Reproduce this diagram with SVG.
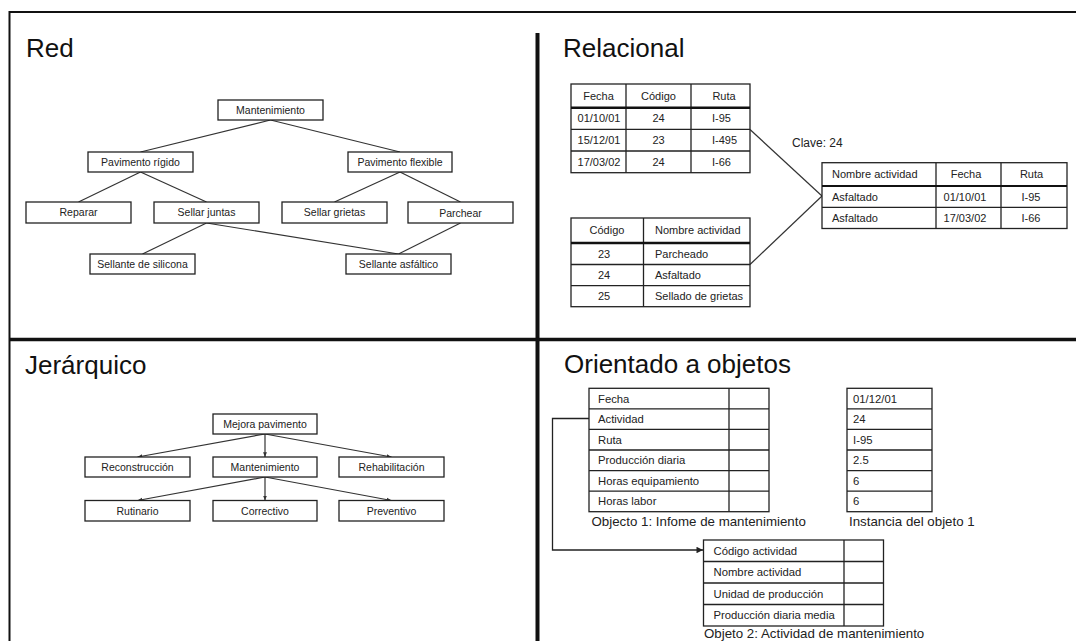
<svg xmlns="http://www.w3.org/2000/svg" width="1076" height="641" viewBox="0 0 1076 641">
<style>
  .bg{fill:#fff}
  .frame{stroke:#111;stroke-width:2;fill:none}
  .div{stroke:#111;stroke-width:4;fill:none}
  .box{fill:#fff;stroke:#222;stroke-width:1.3}
  .grid{stroke:#222;stroke-width:1.3;fill:none}
  .hdr{stroke:#111;stroke-width:2.4;fill:none}
  .edge{stroke:#333;stroke-width:1.2;fill:none}
  text{font-family:"Liberation Sans",Arial,sans-serif;fill:#222}
  .title{font-size:26px;fill:#111}
  .n{font-size:10.5px;text-anchor:middle}
  .tt{font-size:11px}
  .c{text-anchor:middle}
  .ot{font-size:11.3px}
  .cap{font-size:13.3px}
</style>
<defs>
  <marker id="ah" viewBox="0 0 10 10" refX="10" refY="5" markerWidth="4" markerHeight="4" orient="auto" markerUnits="strokeWidth">
    <path d="M0,1 L10,5 L0,9 z" fill="#333"/>
  </marker>
  <marker id="ah2" viewBox="0 0 10 10" refX="10" refY="5" markerWidth="6" markerHeight="5" orient="auto" markerUnits="strokeWidth">
    <path d="M0,0 L10,5 L0,10 z" fill="#222"/>
  </marker>
</defs>
<rect class="bg" x="0" y="0" width="1076" height="641"/>

<!-- frame and dividers -->
<g id="frame">
  <path class="frame" d="M9.5,641 V12 H1076"/>
  <path class="div" d="M537.5,33 V641"/>
  <path class="div" d="M9,339.5 H1076" style="stroke-width:3.5"/>
</g>

<!-- titles -->
<g id="titles">
  <text class="title" x="26" y="57">Red</text>
  <text class="title" x="563" y="57">Relacional</text>
  <text class="title" x="25" y="374">Jerárquico</text>
  <text class="title" x="564" y="373">Orientado a objetos</text>
</g>

<!-- Red connectors -->
<g id="red-connectors">
  <line class="edge" x1="270.5" y1="120" x2="140.5" y2="152"/>
  <line class="edge" x1="270.5" y1="120" x2="400" y2="152"/>
  <line class="edge" x1="140.5" y1="172" x2="78.5" y2="202"/>
  <line class="edge" x1="140.5" y1="172" x2="206.5" y2="202"/>
  <line class="edge" x1="400" y1="172" x2="334.5" y2="202"/>
  <line class="edge" x1="400" y1="172" x2="460.5" y2="202"/>
  <line class="edge" x1="206.5" y1="223" x2="142.5" y2="254"/>
  <line class="edge" x1="206.5" y1="223" x2="398.5" y2="254"/>
  <line class="edge" x1="460.5" y1="223" x2="398.5" y2="254"/>
</g>
<g id="red-mantenimiento"><rect class="box" x="218" y="100" width="105" height="20"/><text class="n" x="270.5" y="113.8">Mantenimiento</text></g>
<g id="red-pav-rigido"><rect class="box" x="88" y="152" width="105" height="20"/><text class="n" x="140.5" y="165.8">Pavimento rígido</text></g>
<g id="red-pav-flexible"><rect class="box" x="348" y="152" width="104" height="20"/><text class="n" x="400" y="165.8">Pavimento flexible</text></g>
<g id="red-reparar"><rect class="box" x="26" y="202" width="105" height="21"/><text class="n" x="78.5" y="216.3">Reparar</text></g>
<g id="red-sellar-juntas"><rect class="box" x="154" y="202" width="105" height="21"/><text class="n" x="206.5" y="216.3">Sellar juntas</text></g>
<g id="red-sellar-grietas"><rect class="box" x="282" y="202" width="105" height="21"/><text class="n" x="334.5" y="216.3">Sellar grietas</text></g>
<g id="red-parchear"><rect class="box" x="408" y="202" width="105" height="21"/><text class="n" x="460.5" y="216.8">Parchear</text></g>
<g id="red-sellante-silicona"><rect class="box" x="90" y="254" width="105" height="20"/><text class="n" x="142.5" y="267.8">Sellante de silicona</text></g>
<g id="red-sellante-asfaltico"><rect class="box" x="346" y="254" width="105" height="20"/><text class="n" x="398.5" y="267.8">Sellante asfáltico</text></g>

<!-- Relacional -->
<g id="rel-connectors">
  <line class="edge" x1="750" y1="129.5" x2="822" y2="196"/>
  <line class="edge" x1="750" y1="264.5" x2="822" y2="196"/>
</g>
<g id="rel-table1">
  <rect class="box" x="571" y="84" width="179" height="88.7"/>
  <path class="grid" d="M626,84 V172.7 M691,84 V172.7 M571,129.3 H750 M571,151 H750"/>
  <path class="hdr" d="M571,107.7 H750"/>
  <g class="tt">
    <text class="c" x="598.5" y="99.8">Fecha</text>
    <text class="c" x="658.5" y="99.8">Código</text>
    <text class="c" x="724" y="99.8">Ruta</text>
    <text class="c" x="599" y="122.3">01/10/01</text>
    <text class="c" x="658.5" y="122.3">24</text>
    <text x="712" y="122.3">I-95</text>
    <text class="c" x="599" y="144">15/12/01</text>
    <text class="c" x="658.5" y="144">23</text>
    <text x="712" y="144">I-495</text>
    <text class="c" x="599" y="165.7">17/03/02</text>
    <text class="c" x="658.5" y="165.7">24</text>
    <text x="712" y="165.7">I-66</text>
  </g>
</g>
<g id="rel-table2">
  <rect class="box" x="571" y="218" width="179" height="88.7"/>
  <path class="grid" d="M643.5,218 V306.7 M571,264.5 H750 M571,285.7 H750"/>
  <path class="hdr" d="M571,243 H750"/>
  <g class="tt">
    <text class="c" x="607" y="234.3">Código</text>
    <text x="655" y="234.3">Nombre actividad</text>
    <text class="c" x="604" y="257.6">23</text>
    <text x="655" y="257.6">Parcheado</text>
    <text class="c" x="604" y="278.9">24</text>
    <text x="655" y="278.9">Asfaltado</text>
    <text class="c" x="604" y="300">25</text>
    <text x="655" y="300">Sellado de grietas</text>
  </g>
</g>
<g id="rel-clave"><text class="tt" x="792" y="146.7" style="font-size:12px">Clave: 24</text></g>
<g id="rel-table3">
  <rect class="box" x="822" y="162.7" width="245" height="65.8"/>
  <path class="grid" d="M936,162.7 V228.5 M1001,162.7 V228.5 M822,207.3 H1067"/>
  <path class="hdr" d="M822,186 H1067" style="stroke-width:1.8"/>
  <g class="tt">
    <text x="832" y="178.3">Nombre actividad</text>
    <text class="c" x="966" y="178.3">Fecha</text>
    <text class="c" x="1031.5" y="178.3">Ruta</text>
    <text x="832" y="200.5">Asfaltado</text>
    <text class="c" x="965" y="200.5">01/10/01</text>
    <text class="c" x="1031" y="200.5">I-95</text>
    <text x="832" y="221.8">Asfaltado</text>
    <text class="c" x="965" y="221.8">17/03/02</text>
    <text class="c" x="1031" y="221.8">I-66</text>
  </g>
</g>

<!-- Jerárquico -->
<g id="jer-connectors">
  <line class="edge" x1="265" y1="434" x2="137.5" y2="457" marker-end="url(#ah)"/>
  <line class="edge" x1="265" y1="434" x2="265" y2="457" marker-end="url(#ah)"/>
  <line class="edge" x1="265" y1="434" x2="391.5" y2="457" marker-end="url(#ah)"/>
  <line class="edge" x1="265" y1="477" x2="137.5" y2="500.5" marker-end="url(#ah)"/>
  <line class="edge" x1="265" y1="477" x2="265" y2="500.5" marker-end="url(#ah)"/>
  <line class="edge" x1="265" y1="477" x2="391.5" y2="500.5" marker-end="url(#ah)"/>
</g>
<g id="jer-mejora"><rect class="box" x="213" y="414" width="104" height="20"/><text class="n" x="265" y="427.5">Mejora pavimento</text></g>
<g id="jer-reconstruccion"><rect class="box" x="85" y="457" width="105" height="20"/><text class="n" x="137.5" y="471">Reconstrucción</text></g>
<g id="jer-mantenimiento"><rect class="box" x="213" y="457" width="104" height="20"/><text class="n" x="265" y="470.5">Mantenimiento</text></g>
<g id="jer-rehabilitacion"><rect class="box" x="339" y="457" width="105" height="20"/><text class="n" x="391.5" y="471">Rehabilitación</text></g>
<g id="jer-rutinario"><rect class="box" x="85" y="500.5" width="105" height="20.5"/><text class="n" x="137.5" y="514.5">Rutinario</text></g>
<g id="jer-correctivo"><rect class="box" x="213" y="500.5" width="104" height="20.5"/><text class="n" x="265" y="514.5">Correctivo</text></g>
<g id="jer-preventivo"><rect class="box" x="339" y="500.5" width="105" height="20.5"/><text class="n" x="391.5" y="514.5">Preventivo</text></g>

<!-- Orientado a objetos -->
<g id="oo-connectors">
  <path class="edge" d="M589,418.5 H552.5 V550 H703" style="stroke:#222;stroke-width:1.3" marker-end="url(#ah2)"/>
</g>
<g id="oo-objeto1">
  <rect class="box" x="589" y="388.3" width="180" height="123.4"/>
  <path class="grid" d="M729,388.3 V511.7 M589,408.9 H769 M589,429.4 H769 M589,450 H769 M589,470.6 H769 M589,491.1 H769"/>
  <g class="ot">
    <text x="598" y="402.6">Fecha</text>
    <text x="598" y="423.2">Actividad</text>
    <text x="598" y="443.7">Ruta</text>
    <text x="598" y="464.3">Producción diaria</text>
    <text x="598" y="484.9">Horas equipamiento</text>
    <text x="598" y="505.4">Horas labor</text>
  </g>
  <text class="cap" x="591.5" y="526">Objecto 1: Infome de mantenimiento</text>
</g>
<g id="oo-instancia">
  <rect class="box" x="847" y="388.3" width="85" height="123.4"/>
  <path class="grid" d="M847,408.9 H932 M847,429.4 H932 M847,450 H932 M847,470.6 H932 M847,491.1 H932"/>
  <g class="ot">
    <text x="853" y="402.6">01/12/01</text>
    <text x="853" y="423.2">24</text>
    <text x="853" y="443.7">I-95</text>
    <text x="853" y="464.3">2.5</text>
    <text x="853" y="484.9">6</text>
    <text x="853" y="505.4">6</text>
  </g>
  <text class="cap" x="849" y="526">Instancia del objeto 1</text>
</g>
<g id="oo-objeto2">
  <rect class="box" x="703.5" y="540" width="180" height="86"/>
  <path class="grid" d="M844,540 V626 M703.5,561.5 H883.5 M703.5,583 H883.5 M703.5,604.5 H883.5"/>
  <g class="ot">
    <text x="713.5" y="554.6">Código actividad</text>
    <text x="713.5" y="576.1">Nombre actividad</text>
    <text x="713.5" y="597.6">Unidad de producción</text>
    <text x="713.5" y="619.1">Producción diaria media</text>
  </g>
  <text class="cap" x="704" y="638.3">Objeto 2: Actividad de mantenimiento</text>
</g>
</svg>
